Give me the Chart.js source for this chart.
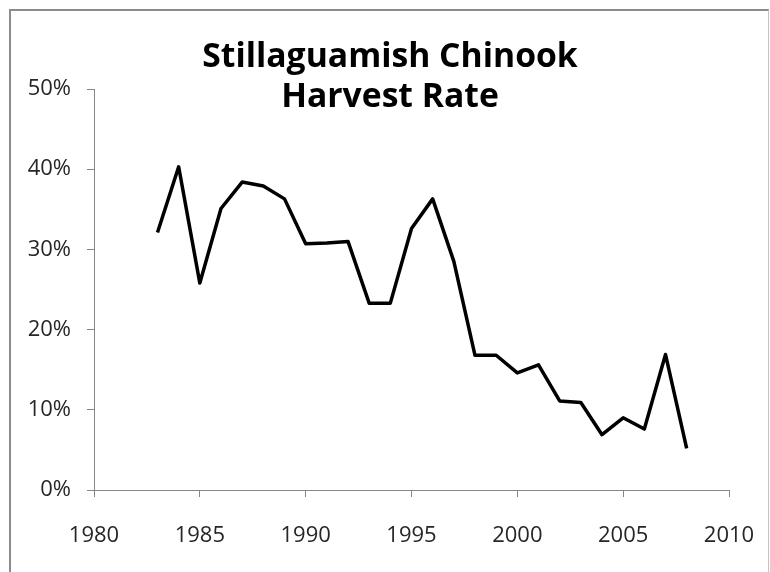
<!DOCTYPE html>
<html>
<head>
<meta charset="utf-8">
<script src="https://cdn.jsdelivr.net/npm/chart.js@4.4.1/dist/chart.umd.min.js"></script>
<style>
  html, body { margin: 0; padding: 0; background: #fff; overflow: hidden; }
  #wrap { position: relative; width: 770px; height: 572px; }
  #frame {
    position: absolute; left: 9px; top: 9px; width: 757px; height: 600px;
    border-left: 2px solid #8c8c8c; border-top: 2px solid #8c8c8c; border-right: 1px solid #c4c4c4;
    pointer-events: none;
  }
</style>
</head>
<body>
<div id="wrap">
  <canvas id="myChart" width="770" height="572"></canvas>
  <div id="frame"></div>
</div>
<script>
const years = [1983, 1984, 1985, 1986, 1987, 1988, 1989, 1990, 1991, 1992, 1993, 1994, 1995,
               1996, 1997, 1998, 1999, 2000, 2001, 2002, 2003, 2004, 2005, 2006, 2007, 2008];
const harvestRate = [32.1, 40.3, 25.8, 35.1, 38.4, 37.9, 36.3, 30.7, 30.8, 31.0, 23.3, 23.3, 32.6,
                     36.3, 28.5, 16.8, 16.8, 14.6, 15.6, 11.1, 10.9, 6.9, 9.0, 7.6, 16.9, 5.2];
const titleLines = ['Stillaguamish Chinook', 'Harvest Rate'];

const axisGray = '#868686';
const labelFont = { family: 'Open Sans', size: 22 };

// title sits over the plot like in the spreadsheet chart
const titlePlugin = {
    id: 'overlayTitle',
    afterDraw(chart) {
        const c = chart.ctx;
        c.save();
        c.fillStyle = '#000';
        c.font = 'bold 33.7px "Open Sans"';
        c.textAlign = 'center';
        c.textBaseline = 'alphabetic';
        c.fillText(titleLines[0], 390, 67);
        c.fillText(titleLines[1], 390, 107);
        c.restore();
    }
};

const ctx = document.getElementById('myChart').getContext('2d');
const myChart = new Chart(ctx, {
    type: 'line',
    data: {
        datasets: [{
            label: 'Harvest Rate',
            data: years.map((y, i) => ({ x: y, y: harvestRate[i] })),
            borderColor: '#000',
            borderWidth: 3.5,
            borderJoinStyle: 'round',
            pointRadius: 0,
            tension: 0,
            fill: false
        }]
    },
    options: {
        responsive: false,
        animation: false,
        layout: { padding: { left: 0, right: 41, top: 89, bottom: 0 } },
        plugins: {
            legend: { display: false },
            title: { display: false },
            tooltip: { enabled: false }
        },
        scales: {
            x: {
                type: 'linear',
                min: 1980,
                max: 2010,
                afterFit(scale) {
                    scale.height = 82;
                    // keep plot edges fixed, the layout padding already leaves room for labels
                    scale.paddingLeft = 0;
                    scale.paddingRight = 0;
                },
                ticks: {
                    stepSize: 5,
                    color: '#262626',
                    font: labelFont,
                    padding: 26,
                    callback: v => String(v)
                },
                grid: { drawOnChartArea: false, drawTicks: true, tickLength: 7, color: axisGray },
                border: { display: true, color: axisGray, width: 1 }
            },
            y: {
                min: 0,
                max: 50,
                afterFit(scale) { scale.width = 94; },
                ticks: {
                    stepSize: 10,
                    color: '#262626',
                    font: labelFont,
                    padding: 16,
                    callback: v => v + '%'
                },
                grid: { drawOnChartArea: false, drawTicks: true, tickLength: 7, color: axisGray },
                border: { display: true, color: axisGray, width: 1 }
            }
        }
    },
    plugins: [titlePlugin]
});
</script>
</body>
</html>
